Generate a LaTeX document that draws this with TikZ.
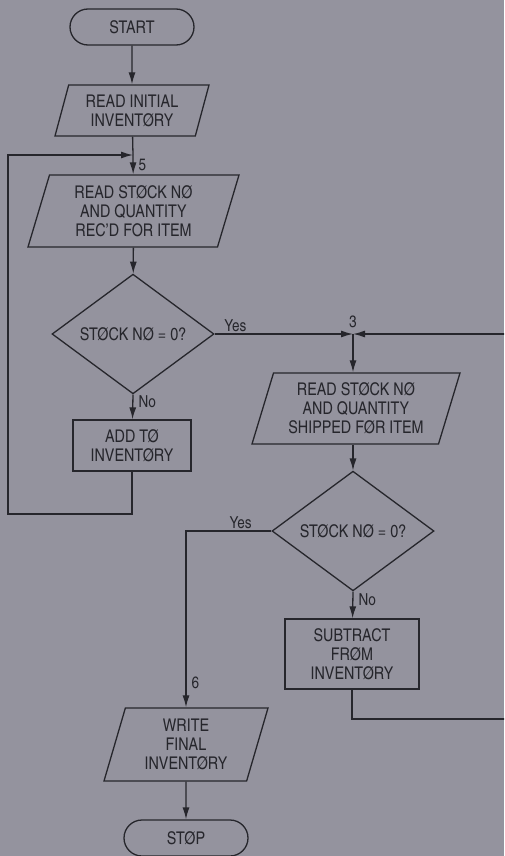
\documentclass[tikz,border=0pt]{standalone}
\usepackage{fontspec}
\setmainfont{TeX Gyre Heros Cn}
\usetikzlibrary{shapes.geometric,arrows.meta}
\definecolor{paper}{RGB}{148,147,158}
\definecolor{ink}{RGB}{38,38,44}
\begin{document}
\begin{tikzpicture}[x=1pt,y=-1pt,
    every node/.style={text=ink,font=\fontsize{17.5}{19}\selectfont,align=center},
    line/.style={draw=ink,line width=1.3pt},
    flow/.style={line,-{Latex[length=12pt,width=7pt]}},
    term/.style={line,rectangle,rounded corners=18pt,minimum width=124pt,minimum height=36pt},
    io/.style={line,trapezium,trapezium left angle=68,trapezium right angle=112,trapezium stretches body,inner sep=1pt},
    proc/.style={line,rectangle,inner sep=1pt},
    test/.style={line,diamond,inner sep=0pt,minimum width=162pt,minimum height=94pt},
    tag/.style={font=\fontsize{16.5}{17}\selectfont,inner sep=5pt}]
      \fill[paper] (0,0) rectangle (504,856);
      \useasboundingbox (0,0) rectangle (504,856);
      \clip (0,0) rectangle (504,856);
      \node[term] (start) at (132,27) {START};
      \node[io,minimum width=154pt,minimum height=51pt] (readinit) at (132,110.5) {READ INITIAL\\INVENTØRY};
      \coordinate (j5) at (133,155);
      \node[io,minimum width=211pt,minimum height=72pt] (readrec) at (133.5,211) {READ STØCK NØ\\AND QUANTITY\\REC'D FOR ITEM};
      \node[test] (testrec) at (133,334) {STØCK NØ = 0?};
      \node[proc,minimum width=118pt,minimum height=51pt] (add) at (132,445.5) {ADD TØ\\INVENTØRY};
      \coordinate (back) at (8,514);
      \coordinate (j3) at (353,334);
      \node[io,minimum width=208pt,minimum height=71pt] (readship) at (356,408.5) {READ STØCK NØ\\AND QUANTITY\\SHIPPED FØR ITEM};
      \node[test] (testship) at (353,531) {STØCK NØ = 0?};
      \node[proc,minimum width=134pt,minimum height=70pt] (sub) at (352,654) {SUBTRACT\\FRØM\\INVENTØRY};
      \coordinate (round) at (540,719);
      \node[io,minimum width=164pt,minimum height=73pt] (write) at (186,744.5) {WRITE\\FINAL\\INVENTØRY};
      \node[term] (stop) at (186,838) {STØP};
      \draw[flow] (start) -- (readinit);
      \draw[line] (readinit) -- (j5);
      \draw[flow] (j5) -- (readrec) node[tag,pos=0.5,anchor=west] {5};
      \draw[flow] (readrec) -- (testrec);
      \draw[flow] (testrec.east) -- (j3) node[tag,pos=0.15,anchor=south,inner sep=2pt] {Yes} node[tag,pos=1,anchor=south,inner sep=2pt,yshift=4pt] {3};
      \draw[flow] (testrec.south) -- (add) node[tag,pos=0.3,anchor=west,inner sep=5pt] {No};
      \draw[flow] (add) |- (back) |- (j5);
      \draw[flow] (j3) -- (j3 |- readship.north);
      \draw[flow] (readship.south -| j3) -- (testship);
      \draw[flow] (testship.south) -- (sub) node[tag,pos=0.3,anchor=west,inner sep=5pt] {No};
      \draw[flow] (sub) |- (round) |- (j3);
      \draw[flow] (testship.west) -| (write.north) node[tag,pos=0.1,anchor=south east,inner sep=2pt] {Yes} node[tag,pos=0.93,anchor=west] {6};
      \draw[flow] (write) -- (stop);
    \end{tikzpicture}
\end{document}
